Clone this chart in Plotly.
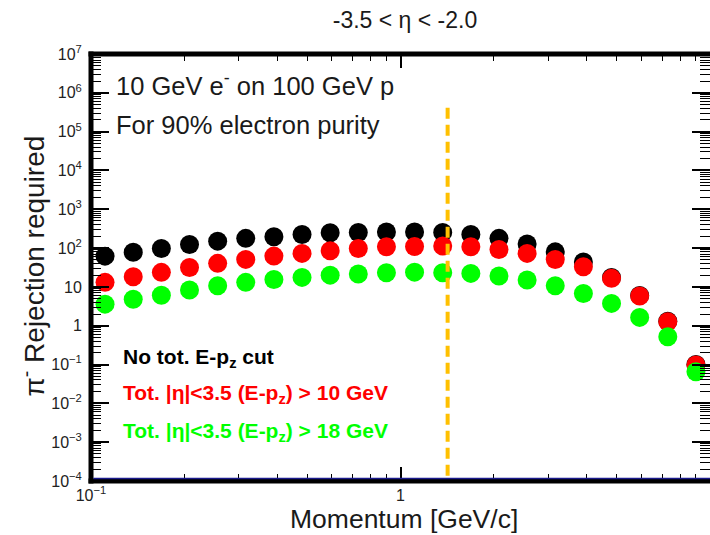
import plotly.graph_objects as go

# Momentum bin centres (GeV/c), 22 log-spaced bins between 0.1 and 10
momentum = [0.1110, 0.1369, 0.1688, 0.2081, 0.2566, 0.3162, 0.3899, 0.4807,
            0.5926, 0.7305, 0.9006, 1.1103, 1.3689, 1.6876, 2.0805, 2.5649,
            3.1623, 3.8986, 4.8064, 5.9254, 7.3050, 9.0060]

# Pion rejection required for 90% electron purity
rej_no_cut = [62, 78, 98, 124, 151, 178, 196, 225, 248, 253, 261, 260,
              254, 225, 178, 127, 80, 44, 17.5, 6.0, 1.3, 0.10]
rej_cut10 = [13.1, 18.2, 23.7, 31.8, 40.4, 51.2, 62.2, 73, 85, 98, 108, 110,
             113, 108, 92, 73, 51, 33, 16.6, 5.8, 1.26, 0.097]
rej_cut18 = [3.6, 4.8, 6.1, 8.3, 10.7, 13.1, 15.6, 17.6, 20.1, 21.4, 23.1, 24,
             23.1, 22.3, 19, 15, 10.7, 6.8, 3.76, 1.64, 0.52, 0.065]

series_names = ["No tot. E-p<sub>z</sub> cut",
                "Tot. |η|<3.5 (E-p<sub>z</sub>) > 10 GeV",
                "Tot. |η|<3.5 (E-p<sub>z</sub>) > 18 GeV"]
series_colors = ["#000000", "#ff0000", "#00ff00"]

# Reference momentum marked by the dashed line
p_marker = 1.42
p_marker_top = 4.1e5

# Axis ticks
x_tickvals = [0.1, 1, 10]
x_ticktext = ["10<sup>−1</sup>", "1", "10"]
y_tickvals = [1e-4, 1e-3, 1e-2, 1e-1, 1, 10, 1e2, 1e3, 1e4, 1e5, 1e6, 1e7]
y_ticktext = ["10<sup>−4</sup>", "10<sup>−3</sup>", "10<sup>−2</sup>",
              "10<sup>−1</sup>", "1", "10", "10<sup>2</sup>", "10<sup>3</sup>",
              "10<sup>4</sup>", "10<sup>5</sup>", "10<sup>6</sup>",
              "10<sup>7</sup>"]

FONT = "Liberation Sans, Arial, sans-serif"
W, H = 710, 535
L, R, T, B = 90.5, 0, 54, 54
PW, PH = W - L - R, H - T - B


def px(x):
    return (x - L) / PW


def py(y):
    return (H - B - y) / PH


fig = go.Figure()

for vals, name, col in zip([rej_no_cut, rej_cut10, rej_cut18],
                           series_names, series_colors):
    fig.add_trace(go.Scatter(
        x=momentum, y=vals, mode="markers", name=name,
        marker=dict(color=col, size=19, line=dict(width=0)),
        showlegend=False, cliponaxis=False))

# Dashed marker line, drawn top-down so the dash pattern starts at the top
fig.add_trace(go.Scatter(
    x=[p_marker, p_marker], y=[p_marker_top, 1e-4], mode="lines",
    line=dict(color="#ffc000", width=4, dash="11px,6px"),
    showlegend=False, hoverinfo="skip"))

minor_x = [m * 10 ** e for e in (-1, 0) for m in range(2, 10)]
minor_y = [m * 10 ** e for e in range(-4, 7) for m in range(2, 10)]

fig.update_xaxes(
    type="log", range=[-1, 1], showgrid=False, zeroline=False,
    showline=True, linecolor="rgba(0,0,0,0)", mirror="ticks",
    tickmode="array", tickvals=x_tickvals, ticktext=x_ticktext,
    ticks="inside", ticklen=14, tickwidth=1.5, tickcolor="black",
    ticklabelstandoff=0,
    tickfont=dict(family=FONT, size=16, color="#222"),
    minor=dict(tickmode="array", tickvals=minor_x, ticks="inside",
               ticklen=7, tickwidth=1, tickcolor="black", showgrid=False),
    automargin=False)

fig.update_yaxes(
    type="log", range=[-4, 7], showgrid=False, zeroline=False,
    showline=True, linecolor="rgba(0,0,0,0)", mirror="ticks",
    tickmode="array", tickvals=y_tickvals, ticktext=y_ticktext,
    ticks="inside", ticklen=18, tickwidth=1.5, tickcolor="black",
    ticklabelstandoff=5,
    tickfont=dict(family=FONT, size=16, color="#222"),
    minor=dict(tickmode="array", tickvals=minor_y, ticks="inside",
               ticklen=10, tickwidth=1, tickcolor="black", showgrid=False),
    automargin=False)

# Frame: thick black lines on left, top and bottom
frame = dict(type="line", xref="paper", yref="paper", layer="above",
             line=dict(color="black", width=5))
fig.add_shape(**frame, x0=0, x1=0, y0=-0.006, y1=1.006)
fig.add_shape(**frame, x0=-0.004, x1=1, y0=1, y1=1)
fig.add_shape(**frame, x0=-0.004, x1=1, y0=0, y1=0)
fig.add_shape(type="line", xref="paper", yref="paper", layer="above",
              x0=0.004, x1=1, y0=py(478.5), y1=py(478.5),
              line=dict(color="#1a1a8c", width=1.5))

annotations = [
    dict(text="10 GeV e<sup>-</sup> on 100 GeV p", x=px(114), y=py(84),
         xanchor="left", font=dict(size=25.5, color="#1a1a1a")),
    dict(text="For 90% electron purity", x=px(114), y=py(125),
         xanchor="left", font=dict(size=25.5, color="#1a1a1a")),
    dict(text="<b>" + series_names[0] + "</b>", x=px(121), y=py(358),
         xanchor="left", font=dict(size=21, color=series_colors[0])),
    dict(text="<b>" + series_names[1] + "</b>", x=px(121), y=py(394),
         xanchor="left", font=dict(size=21, color=series_colors[1])),
    dict(text="<b>" + series_names[2] + "</b>", x=px(121), y=py(432),
         xanchor="left", font=dict(size=21, color=series_colors[2])),
    dict(text="Momentum [GeV/c]", x=px(404), y=py(518.5), xanchor="center",
         font=dict(size=26.5, color="#1a1a1a")),
    dict(text="π<sup>-</sup> Rejection required", x=px(32), y=py(266),
         xanchor="center", textangle=-90, font=dict(size=28, color="#1a1a1a")),
]
for a in annotations:
    a.update(xref="paper", yref="paper", showarrow=False, yanchor="middle")
    a["font"]["family"] = FONT

fig.update_layout(
    width=W, height=H,
    margin=dict(l=L, r=R, t=T, b=B),
    paper_bgcolor="white", plot_bgcolor="white",
    title=dict(text="-3.5 < η < -2.0", x=405 / W, y=1 - 20 / H,
               xanchor="center", yanchor="middle",
               font=dict(family=FONT, size=23, color="#1a1a1a")),
    annotations=annotations,
    showlegend=False,
)

fig.write_html("out.html")
